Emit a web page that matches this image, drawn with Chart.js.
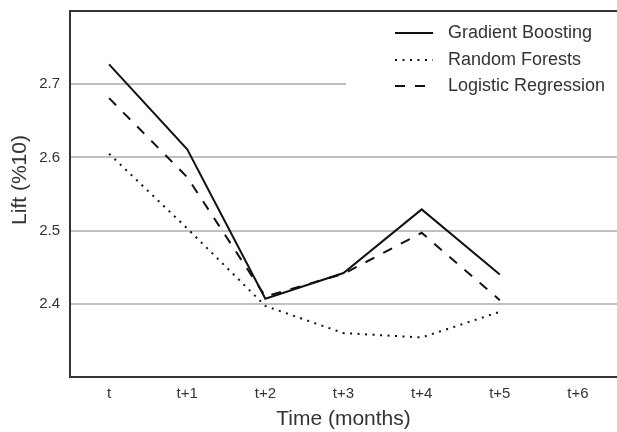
<!DOCTYPE html>
<html>
<head>
<meta charset="utf-8">
<script src="https://cdn.jsdelivr.net/npm/chart.js@4/dist/chart.umd.min.js"></script>
<style>
  html, body { margin: 0; padding: 0; background: #fff; overflow: hidden; }
  #wrap { width: 617px; height: 432px; position: relative; }
</style>
</head>
<body>
<div id="wrap"><canvas id="c"></canvas></div>
<script>
// Lift per forecast horizon for each model
const periods = ['t', 't+1', 't+2', 't+3', 't+4', 't+5', 't+6'];
const gradientBoosting   = [2.727, 2.611, 2.407, 2.442, 2.529, 2.440];
const randomForests      = [2.605, 2.503, 2.397, 2.360, 2.354, 2.389];
const logisticRegression = [2.681, 2.573, 2.410, 2.441, 2.497, 2.405];
const liftTicks = [2.4, 2.5, 2.6, 2.7];
const yTitle = 'Lift (%10)';
const xTitle = 'Time (months)';

const INK = '#333333';
const FONT = "'Liberation Sans', Arial, Helvetica, sans-serif";

// top edge of the plot frame
const frameTop = {
  id: 'frameTop',
  afterDraw(chart) {
    const { ctx, chartArea: a } = chart;
    ctx.save();
    ctx.strokeStyle = INK;
    ctx.lineWidth = 2;
    ctx.beginPath();
    ctx.moveTo(a.left - 1, a.top);
    ctx.lineTo(a.right, a.top);
    ctx.stroke();
    ctx.restore();
  }
};

// vertical axis title, set a little above the axis midpoint
const sideTitle = {
  id: 'sideTitle',
  afterDraw(chart) {
    const { ctx, chartArea: a } = chart;
    ctx.save();
    ctx.translate(20, (a.top + a.bottom) / 2 - 14);
    ctx.rotate(-Math.PI / 2);
    ctx.fillStyle = INK;
    ctx.font = '21px ' + FONT;
    ctx.textAlign = 'center';
    ctx.textBaseline = 'middle';
    ctx.fillText(yTitle, 0, 0);
    ctx.restore();
  }
};

// legend drawn inside the plot, top right, on a white panel
const innerLegend = {
  id: 'innerLegend',
  afterDatasetsDraw(chart) {
    const { ctx, chartArea: a } = chart;
    const panelLeft = 346, panelTop = a.top + 3, panelBottom = 102;
    const sampleX0 = 395, sampleX1 = 433, textX = 448;
    const rowY = [33, 60, 86];
    ctx.save();
    ctx.fillStyle = '#ffffff';
    ctx.fillRect(panelLeft, panelTop, a.right - panelLeft, panelBottom - panelTop);
    chart.data.datasets.forEach((ds, i) => {
      const y = rowY[i];
      ctx.strokeStyle = ds.borderColor;
      ctx.lineWidth = ds.borderWidth;
      ctx.lineCap = 'butt';
      ctx.setLineDash(ds.borderDash || []);
      ctx.beginPath();
      ctx.moveTo(sampleX0, y);
      ctx.lineTo(sampleX1, y);
      ctx.stroke();
      ctx.setLineDash([]);
      ctx.fillStyle = INK;
      ctx.font = '18px ' + FONT;
      ctx.textAlign = 'left';
      ctx.textBaseline = 'middle';
      ctx.fillText(ds.label, textX, y);
    });
    ctx.restore();
  }
};

new Chart(document.getElementById('c'), {
  type: 'line',
  data: {
    labels: periods,
    datasets: [
      { label: 'Gradient Boosting', data: gradientBoosting,
        borderColor: '#111111', borderWidth: 2, borderDash: [],
        pointRadius: 0, tension: 0, fill: false },
      { label: 'Random Forests', data: randomForests,
        borderColor: '#111111', borderWidth: 2, borderDash: [2, 5.5],
        pointRadius: 0, tension: 0, fill: false },
      { label: 'Logistic Regression', data: logisticRegression,
        borderColor: '#111111', borderWidth: 2, borderDash: [10, 10],
        pointRadius: 0, tension: 0, fill: false }
    ]
  },
  options: {
    responsive: true,
    maintainAspectRatio: false,
    animation: false,
    devicePixelRatio: 1,
    layout: { padding: { top: 11, right: 0, left: 0, bottom: 0 } },
    plugins: {
      legend: { display: false },
      tooltip: { enabled: false }
    },
    scales: {
      x: {
        type: 'category',
        offset: true,
        grid: { display: false, drawTicks: false },
        border: { display: true, color: INK, width: 2 },
        ticks: { color: INK, font: { family: FONT, size: 15 }, padding: 8, maxRotation: 0, autoSkip: false },
        title: { display: true, text: xTitle, color: INK,
                 font: { family: FONT, size: 21 }, padding: { top: 0, bottom: 0 } },
        afterFit(s) { s.height = 55; s.paddingLeft = 0; s.paddingRight = 0; }
      },
      y: {
        min: 2.3,
        max: 2.8,
        afterBuildTicks(s) { s.ticks = liftTicks.map(v => ({ value: v })); },
        grid: { color: '#c0c0c0', lineWidth: 2, drawTicks: false },
        border: { display: true, color: INK, width: 2 },
        ticks: { color: INK, font: { family: FONT, size: 15 }, padding: 10,
                 callback: v => v.toFixed(1) },
        title: { display: false },
        afterFit(s) { s.width = 70; s.paddingTop = 0; s.paddingBottom = 0; }
      }
    }
  },
  plugins: [innerLegend, frameTop, sideTitle]
});
</script>
</body>
</html>
